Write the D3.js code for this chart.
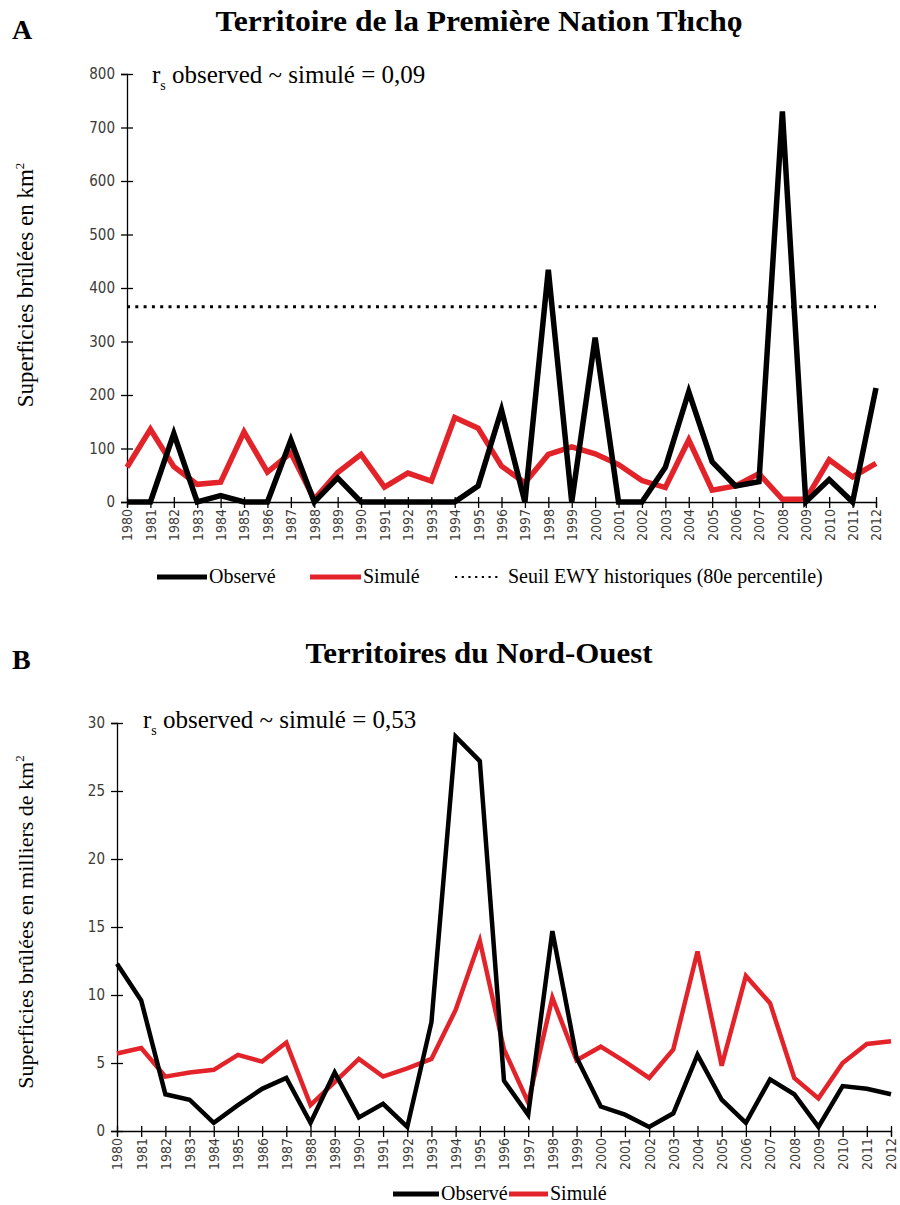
<!DOCTYPE html>
<html>
<head>
<meta charset="utf-8">
<script src="https://cdn.jsdelivr.net/npm/d3@7"></script>
<style>
  body { margin: 0; background: #fff; }
  svg text { font-family: "Liberation Serif", "Times New Roman", serif; }
  .tick text { font-family: "Liberation Sans Narrow", "DejaVu Sans Condensed", "Liberation Sans", sans-serif; fill: #3d3a36; }
</style>
</head>
<body>
<div id="chart"></div>
<script>
// data
var years = [1980, 1981, 1982, 1983, 1984, 1985, 1986, 1987, 1988, 1989, 1990,
  1991, 1992, 1993, 1994, 1995, 1996, 1997, 1998, 1999, 2000, 2001, 2002,
  2003, 2004, 2005, 2006, 2007, 2008, 2009, 2010, 2011, 2012]

// panel A, km2
var obsA = [0, 0, 128, 0, 12, 0, 0, 116, 0, 45, 0, 0, 0, 0, 0, 30, 172, 0, 434, 0,
  307, 0, 0, 65, 206, 75, 30, 38, 730, 0, 42, 0, 213]
var simA = [65, 136, 66, 33, 37, 131, 56, 92, 5, 55, 89, 28, 54, 39, 158, 138, 67,
  36, 89, 103, 90, 70, 40, 27, 116, 22, 30, 53, 5, 5, 79, 47, 72]
var seuilA = 365
var ticksA = [0, 100, 200, 300, 400, 500, 600, 700, 800]

// panel B, milliers de km2
var obsB = [12.3, 9.6, 2.7, 2.3, 0.6, 1.9, 3.1, 3.9, 0.6, 4.3, 1.0, 2.0, 0.3, 8.0,
  29.0, 27.2, 3.7, 1.2, 14.7, 5.4, 1.8, 1.2, 0.3, 1.3, 5.6, 2.3, 0.6, 3.8, 2.7,
  0.3, 3.3, 3.1, 2.7]
var simB = [5.7, 6.1, 4.0, 4.3, 4.5, 5.6, 5.1, 6.5, 1.9, 3.6, 5.3, 4.0, 4.6, 5.3,
  8.9, 14.0, 6.0, 2.1, 9.8, 5.2, 6.2, 5.1, 3.9, 6.0, 13.2, 4.8, 11.4, 9.4, 3.9,
  2.4, 5.0, 6.4, 6.6]
var ticksB = [0, 5, 10, 15, 20, 25, 30]

var red = '#e3232a'

var svg = d3.select('#chart')
  .append('svg')
  .attr('width', 900)
  .attr('height', 1205)

function panel(opt) {
  var g = svg.append('g')

  var x = d3.scaleLinear().domain([1980, 2012]).range([opt.left, opt.right])
  var y = d3.scaleLinear().domain([0, opt.max]).range([opt.bottom, opt.top])

  // letter + title
  g.append('text')
    .attr('x', 12).attr('y', opt.letterY)
    .attr('font-size', 28).attr('font-weight', 'bold')
    .text(opt.letter)
  g.append('text')
    .attr('x', 479).attr('y', opt.titleY)
    .attr('text-anchor', 'middle')
    .attr('font-size', 30).attr('font-weight', 'bold')
    .attr('textLength', opt.titleW).attr('lengthAdjust', 'spacingAndGlyphs')
    .text(opt.title)

  // y axis
  var yAxis = g.append('g')
    .attr('transform', 'translate(' + opt.left + ',0)')
    .call(d3.axisLeft(y).tickValues(opt.ticks).tickSize(6).tickPadding(6))
  yAxis.select('.domain').attr('stroke', '#000').attr('stroke-width', 1.3)
  yAxis.selectAll('.tick line').attr('x1', 6).attr('x2', -6).attr('stroke-width', 1.3)
  yAxis.selectAll('.tick text').attr('font-size', 15)

  // x axis
  var xAxis = g.append('g')
    .attr('transform', 'translate(0,' + opt.bottom + ')')
    .call(d3.axisBottom(x).tickValues(years).tickFormat(d3.format('d')).tickSize(5))
  xAxis.select('.domain').attr('stroke', '#000').attr('stroke-width', 1.3)
  xAxis.selectAll('.tick line').attr('y1', -5).attr('y2', 6).attr('stroke-width', 1.3)
  xAxis.selectAll('.tick text')
    .attr('font-size', 14)
    .attr('text-anchor', 'end')
    .attr('transform', 'rotate(-90)')
    .attr('x', -7).attr('y', 0).attr('dy', '0.35em')

  // y label
  var yl = g.append('text')
    .attr('transform', 'translate(' + opt.ylabX + ',' + opt.ylabY + ') rotate(-90)')
    .attr('text-anchor', 'middle')
    .attr('font-size', opt.ylabSize)
  yl.append('tspan').text(opt.ylabel)
  yl.append('tspan').attr('font-size', 13).attr('dy', -9).text('2')

  // correlation text
  var rs = g.append('text')
    .attr('x', opt.rsX).attr('y', opt.rsY)
    .attr('font-size', 25)
  rs.append('tspan').text('r')
  rs.append('tspan').attr('font-size', 14).attr('dy', 7).text('s')
  rs.append('tspan').attr('dy', -7).text(' observed ~ simulé = ' + opt.rs)

  // threshold
  if (opt.seuil != null) {
    g.append('line')
      .attr('x1', x(1980)).attr('x2', x(2012))
      .attr('y1', y(opt.seuil)).attr('y2', y(opt.seuil))
      .attr('stroke', '#000').attr('stroke-width', 3)
      .attr('stroke-dasharray', '3,5.3')
  }

  var line = d3.line()
    .x(function(d, i) { return x(years[i]) })
    .y(function(d) { return y(d) })

  g.append('path').datum(opt.sim)
    .attr('d', line).attr('fill', 'none')
    .attr('stroke', red).attr('stroke-width', opt.lw)
    .attr('stroke-linejoin', 'miter')
  g.append('path').datum(opt.obs)
    .attr('d', line).attr('fill', 'none')
    .attr('stroke', '#000').attr('stroke-width', opt.lw)
    .attr('stroke-linejoin', 'miter')

  // legend
  var leg = g.append('g').attr('transform', 'translate(0,' + opt.legY + ')')
  opt.legend.forEach(function(it) {
    leg.append('line')
      .attr('x1', it.x).attr('x2', it.x + it.w)
      .attr('y1', 0).attr('y2', 0)
      .attr('stroke', it.color).attr('stroke-width', it.dash ? 2.2 : 5)
      .attr('stroke-dasharray', it.dash ? '2.2,4.5' : null)
    leg.append('text')
      .attr('x', it.x + it.w + (it.dash ? 8 : 2)).attr('y', 6)
      .attr('font-size', 20)
      .text(it.label)
  })
}

panel({
  letter: 'A', letterY: 39,
  title: 'Territoire de la Première Nation Tłıchǫ', titleY: 31, titleW: 527,
  left: 127, right: 876, top: 74, bottom: 502,
  max: 800, ticks: ticksA,
  obs: obsA, sim: simA, seuil: seuilA, lw: 5.5,
  ylabel: 'Superficies brûlées en km', ylabX: 33, ylabY: 285, ylabSize: 23,
  rsX: 152, rsY: 83, rs: '0,09',
  legY: 577,
  legend: [
    { x: 157, w: 50, color: '#000', label: 'Observé' },
    { x: 310, w: 51, color: red, label: 'Simulé' },
    { x: 455, w: 45, color: '#000', dash: true, label: 'Seuil EWY historiques (80e percentile)' }
  ]
})

panel({
  letter: 'B', letterY: 669,
  title: 'Territoires du Nord-Ouest', titleY: 663, titleW: 347,
  left: 117, right: 891, top: 723, bottom: 1131,
  max: 30, ticks: ticksB,
  obs: obsB, sim: simB, seuil: null, lw: 4.5,
  ylabel: 'Superficies brûlées en milliers de km', ylabX: 33, ylabY: 922, ylabSize: 22,
  rsX: 143, rsY: 728, rs: '0,53',
  legY: 1194,
  legend: [
    { x: 393, w: 46, color: '#000', label: 'Observé' },
    { x: 509, w: 39, color: red, label: 'Simulé' }
  ]
})
</script>
</body>
</html>
